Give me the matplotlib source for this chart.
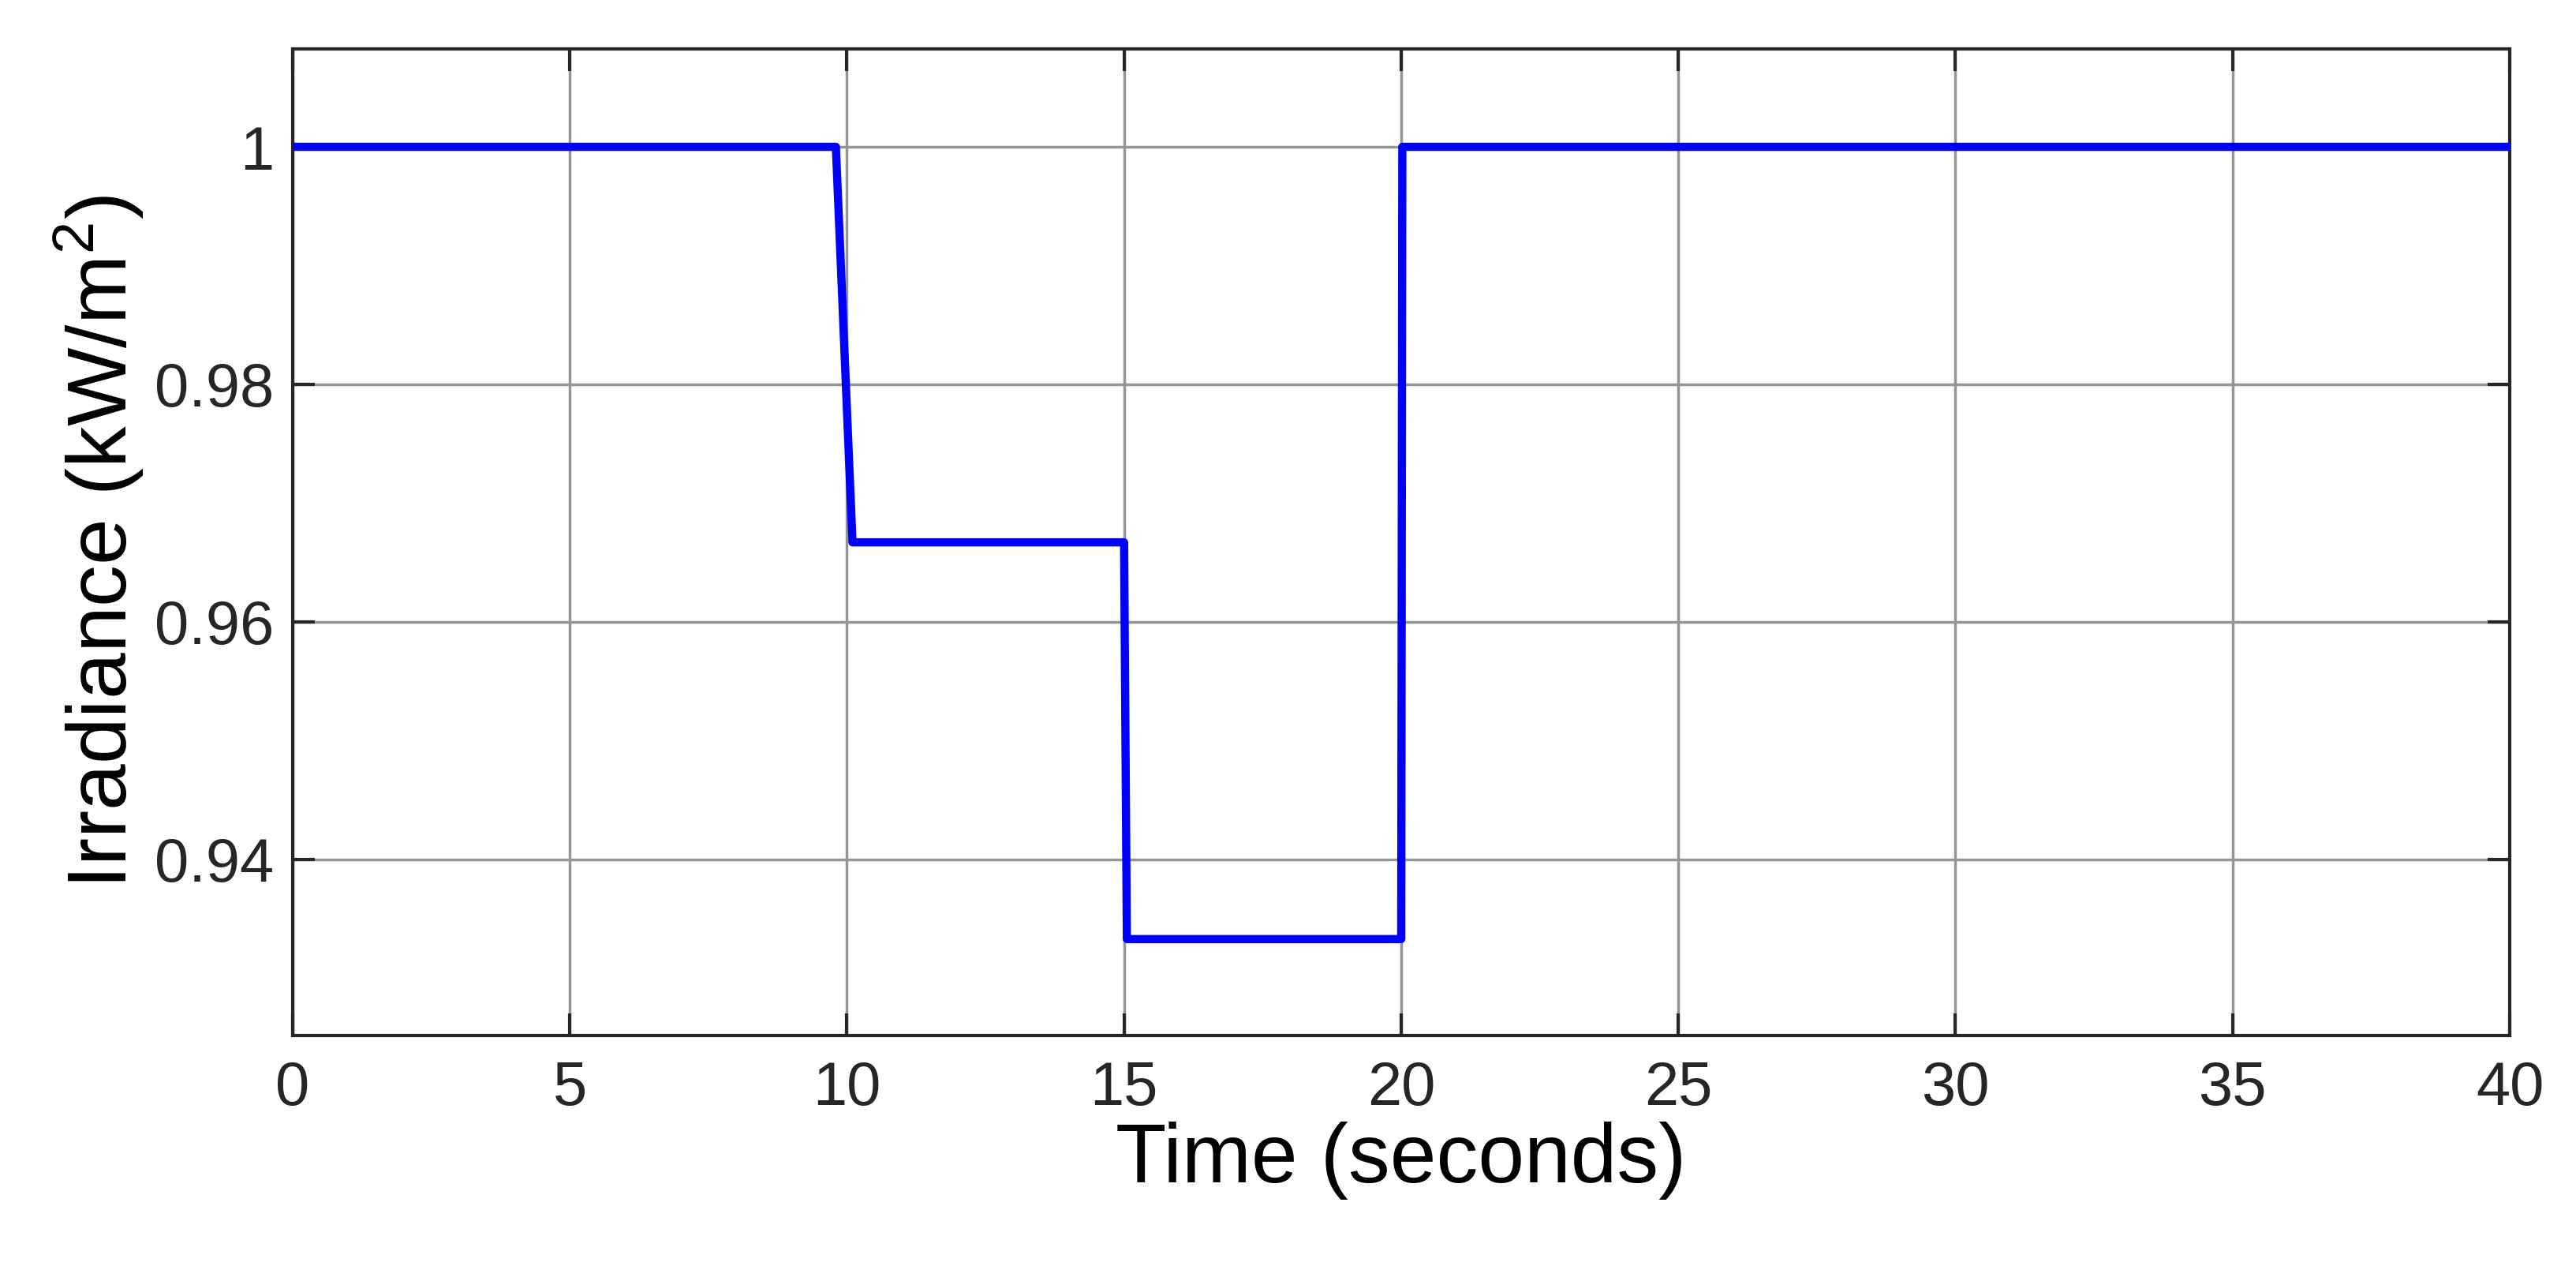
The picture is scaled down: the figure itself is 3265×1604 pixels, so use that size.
import matplotlib
matplotlib.use("Agg")
import matplotlib.pyplot as plt

time_s = [0, 9.8, 10.1, 15.0, 15.05, 20.0, 20.02, 40]
irradiance = [1.0, 1.0, 0.9667, 0.9667, 0.9333, 0.9333, 1.0, 1.0]
xticks = [0, 5, 10, 15, 20, 25, 30, 35, 40]
yticks = [0.94, 0.96, 0.98, 1.0]
yticklabels = ["0.94", "0.96", "0.98", "1"]

plt.rcParams['font.family'] = ['Liberation Sans', 'DejaVu Sans']
plt.rcParams['mathtext.fontset'] = 'custom'
plt.rcParams['mathtext.rm'] = 'Liberation Sans'

fig = plt.figure(figsize=(32.66, 16.04), dpi=100)
ax = fig.add_axes([371/3266, 1-1312/1604, (3181-371)/3266, (1312-62)/1604])

ax.plot(time_s, irradiance, color='#0000FF', linewidth=7.5, zorder=3)
ax.set_xlim(0, 40)
ax.set_ylim(0.92518, 1.00824)
ax.set_xticks(xticks)
ax.set_xticklabels([str(t) for t in xticks])
ax.set_yticks(yticks)
ax.set_yticklabels(yticklabels)

ax.grid(True, color='#959595', linewidth=2.5)
ax.set_axisbelow(True)
for s in ax.spines.values():
    s.set_linewidth(3)
    s.set_color('#262626')
ax.tick_params(direction='in', length=20, width=3, color='#262626',
               labelsize=56, labelcolor='#262626', top=True, right=True)
ax.tick_params(axis='x', pad=22)
ax.tick_params(axis='y', pad=17)

ax.set_xlabel('Time (seconds)', fontsize=76, color='#000000', labelpad=4)
ax.set_ylabel('Irradiance (kW/m$^2$)', fontsize=76, color='#000000', labelpad=8)

fig.savefig('out.png', dpi=100, facecolor='white')
